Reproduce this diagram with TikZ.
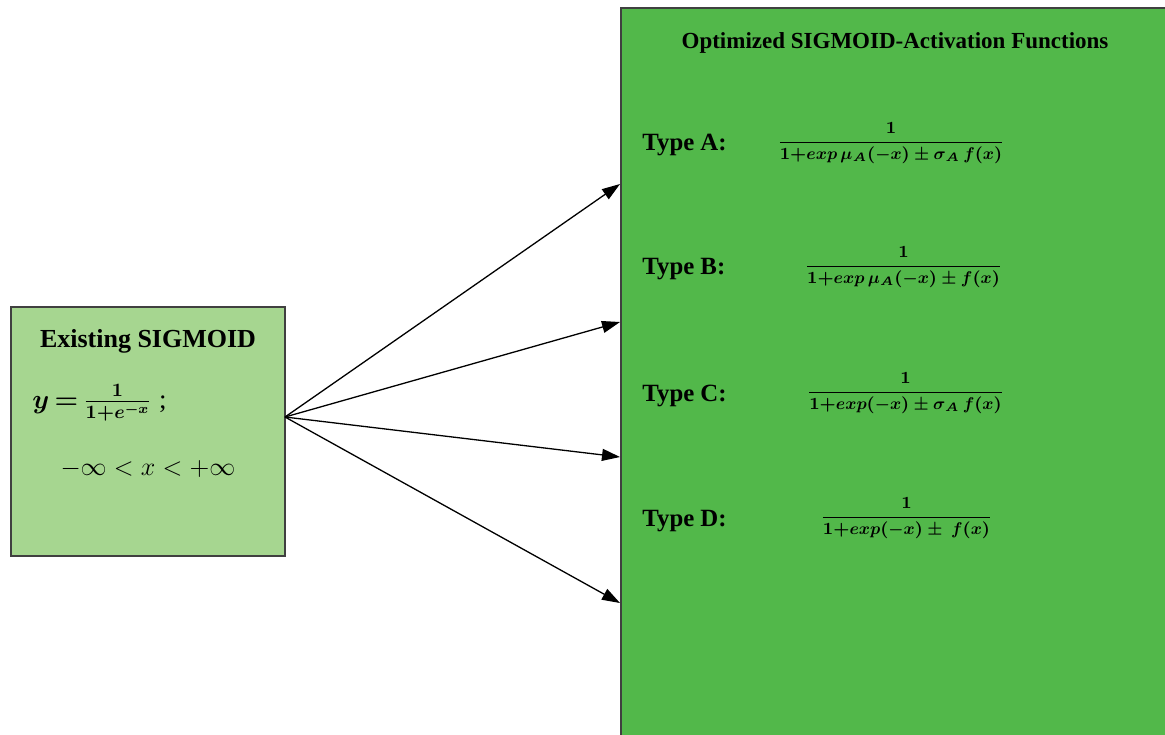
\documentclass[tikz,border=0pt]{standalone}
\usepackage{fix-cm}
\usepackage{amsmath}
\usepackage{fontspec}
\setmainfont{Liberation Serif}
\usetikzlibrary{arrows.meta}
\definecolor{lightleaf}{RGB}{166,214,144}
\definecolor{leaf}{RGB}{82,184,74}
\definecolor{rim}{RGB}{64,64,64}

\begin{document}
\begin{tikzpicture}[x=0.5pt, y=-0.5pt,
  box/.style={draw=rim, line width=1pt, inner sep=0pt},
  head/.style={font=\bfseries\fontsize{13}{15}\selectfont},
  typelabel/.style={anchor=base west, inner sep=0pt, font=\bfseries\fontsize{12.4}{14}\selectfont},
  formula/.style={inner sep=0pt, font=\boldmath\fontsize{8.5}{11}\selectfont},
  link/.style={-{Triangle[length=9pt,width=6pt]}, line width=0.65pt}]
\useasboundingbox (0,0) rectangle (1165,734);
\clip (0,0) rectangle (1165,734);

% Define boxes
\path (148,431.5) node[box, fill=lightleaf, minimum width=137pt, minimum height=124.5pt] (exist) {}
(900.5,379) node[box, fill=leaf, minimum width=279.5pt, minimum height=371pt] (optim) {}
;

% Existing sigmoid
\path (148,341) node[head] (existtitle) {Existing SIGMOID}
(32,403) node[anchor=west, inner sep=0pt, font=\boldmath\fontsize{13.5}{16}\selectfont] (sigmoid) {$y\mskip3mu{=}\mskip3mu\frac{1}{1{+}e^{-x}}$\;;}
(148,469) node[font=\fontsize{13}{15}\selectfont] (range) {$-\infty < x < +\infty$}
;

% Optimized variants
\path (895,43) node[head, font=\bfseries\fontsize{11.5}{14}\selectfont] (optimtitle) {Optimized SIGMOID-Activation Functions}
(642,150) node[typelabel] (typeA) {Type A:}
(642,274) node[typelabel] (typeB) {Type B:}
(642,401) node[typelabel] (typeC) {Type C:}
(642,526) node[typelabel] (typeD) {Type D:}
(891,143) node[formula] (fracA) {$\dfrac{1}{1{+}exp\,\mu_A(-x)\pm\sigma_A\,f(x)}$}
(903.5,267) node[formula] (fracB) {$\dfrac{1}{1{+}exp\,\mu_A(-x)\pm f(x)}$}
(905.5,393) node[formula] (fracC) {$\dfrac{1}{1{+}exp(-x)\pm\sigma_A\,f(x)}$}
(906.5,518) node[formula] (fracD) {$\dfrac{1}{1{+}exp(-x)\pm\ f(x)}$}
;

% Connectors
\coordinate (src) at (285,417);
\coordinate (toA) at (620,184);
\coordinate (toB) at (620,322);
\coordinate (toC) at (620,457);
\coordinate (toD) at (620,603);
\foreach \t in {toA,toB,toC,toD}
\draw[link] (src) -- (\t);

\end{tikzpicture}
\end{document}
